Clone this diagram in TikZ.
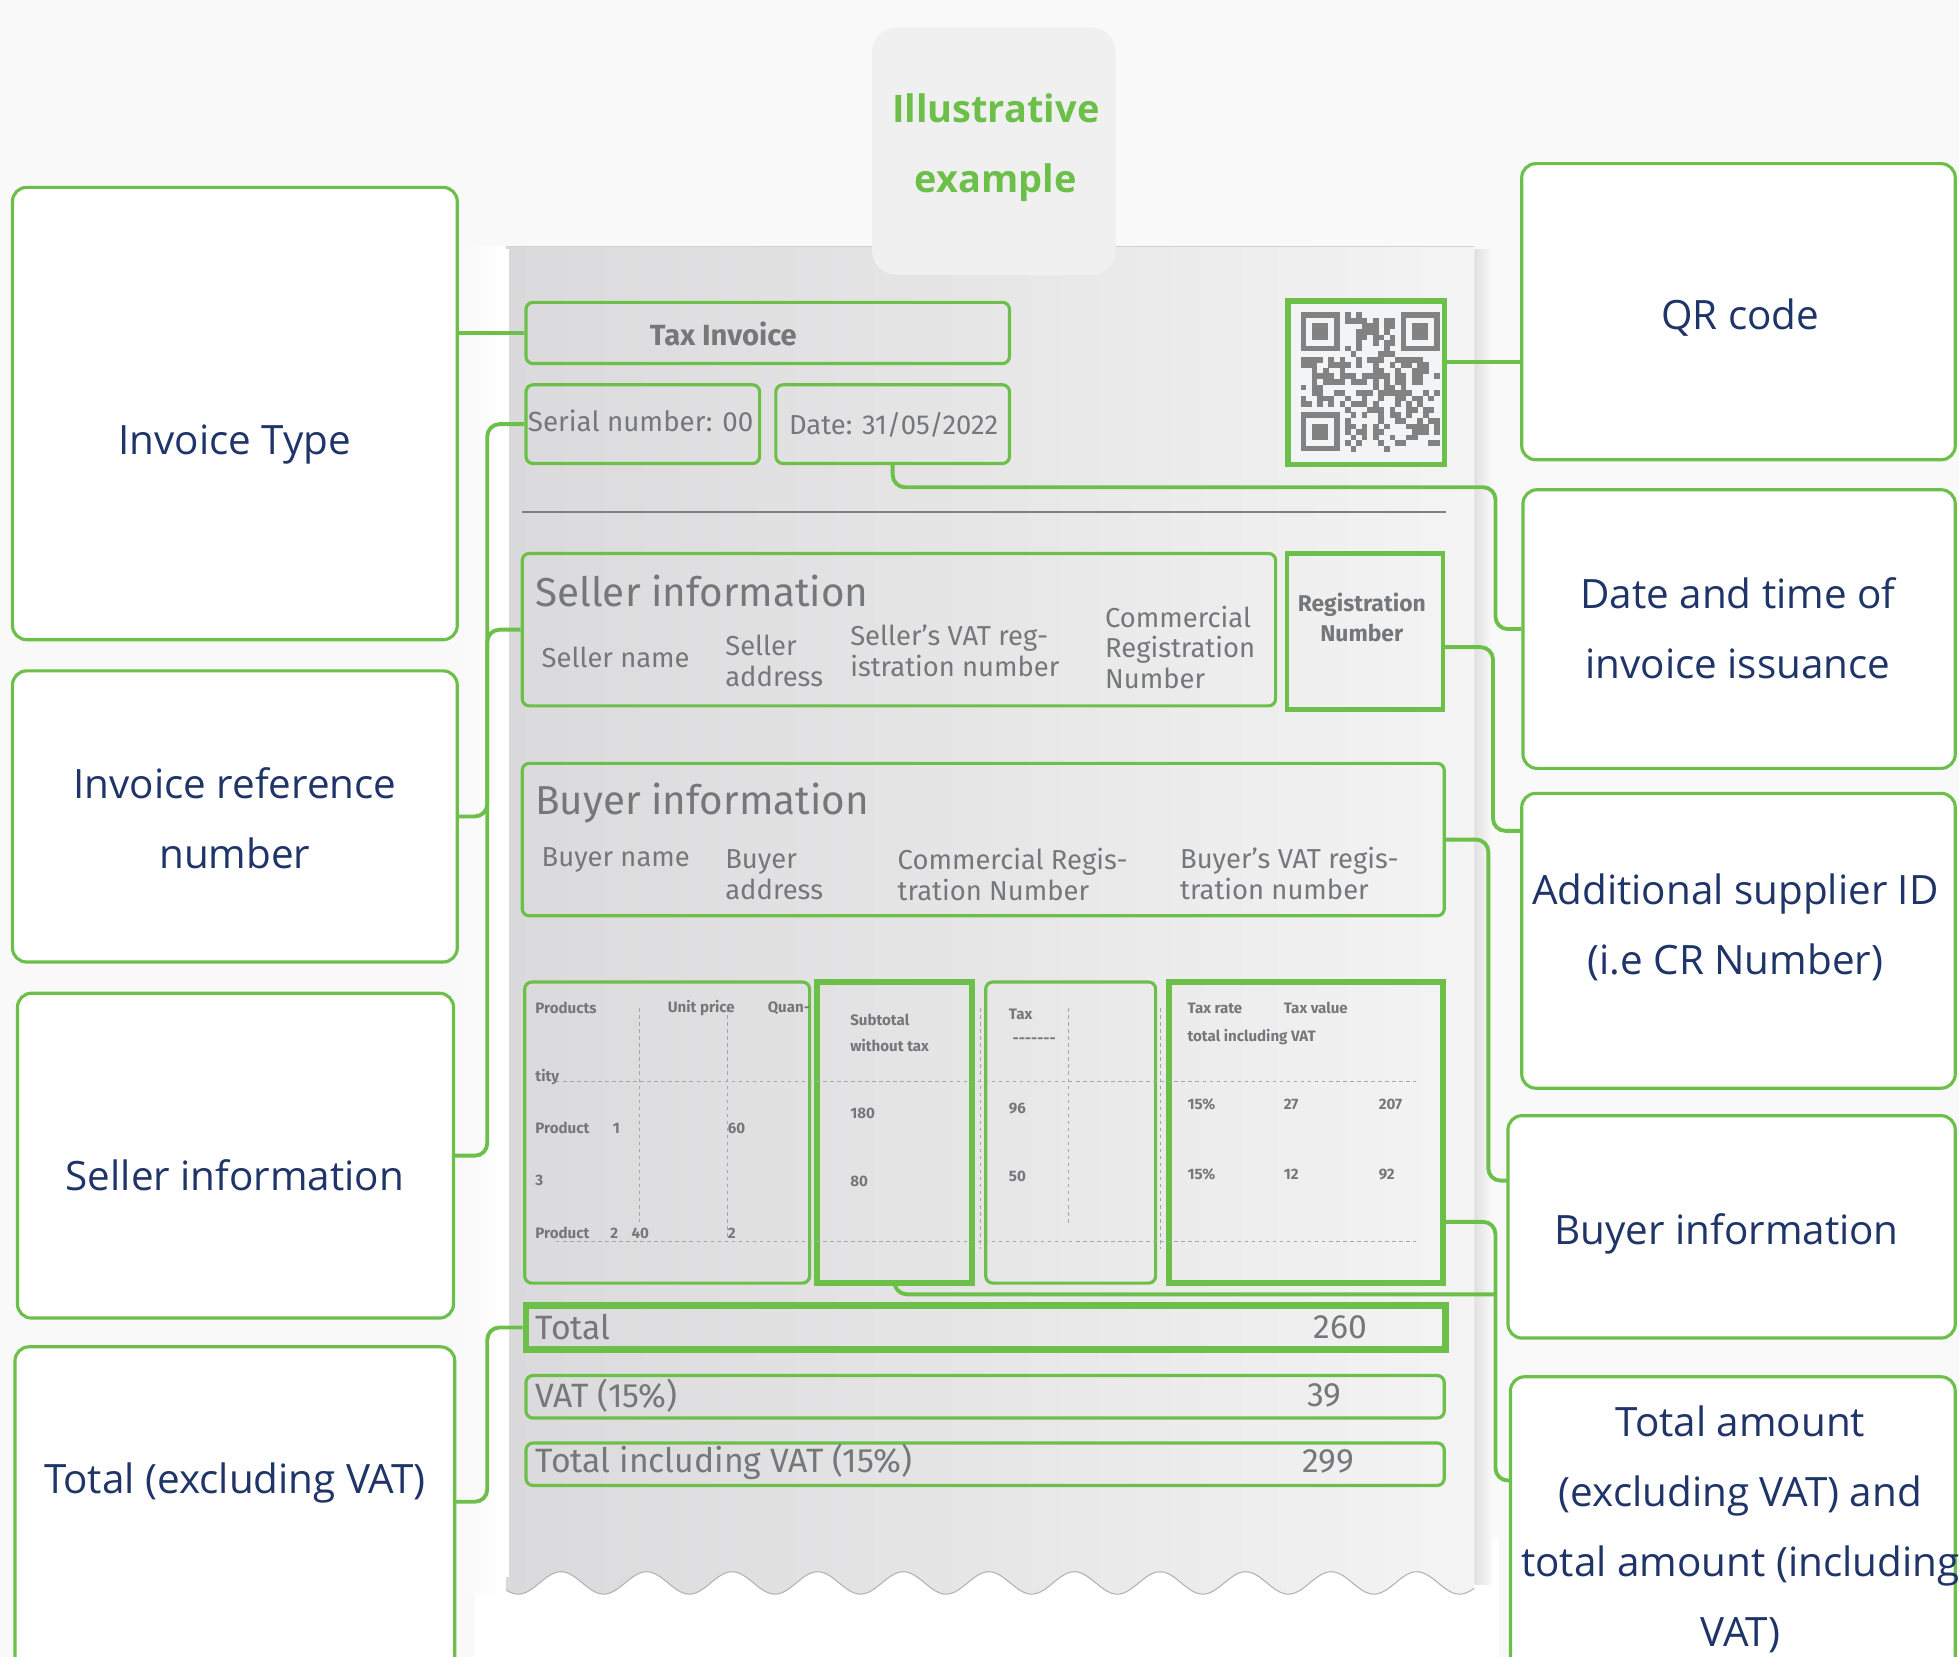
\documentclass[tikz,border=0pt]{standalone}
\usepackage{fontspec}
\setmainfont{Open Sans}
\newfontfamily\lblfont{Open Sans}
\newfontfamily\invfont{Fira Sans}
\usetikzlibrary{fit,calc}
\definecolor{grn}{RGB}{108,192,74}
\definecolor{navy}{RGB}{31,52,104}
\definecolor{ink}{RGB}{118,119,122}
\definecolor{bgc}{RGB}{249,249,249}
\definecolor{paperL}{RGB}{218,217,219}
\definecolor{paperR}{RGB}{244,244,244}
\definecolor{tagbg}{RGB}{241,240,241}
\definecolor{qrgray}{RGB}{130,130,130}
\definecolor{qrbg}{RGB}{243,244,245}
\definecolor{dotc}{RGB}{165,165,165}
\begin{document}
\begin{tikzpicture}[x=0.0125cm, y=-0.0125cm,
  lblbox/.style={draw=grn, line width=0.9pt, rounded corners=4pt, fill=white, inner sep=0pt},
  lbltext/.style={text=navy, font=\lblfont\fontsize{11.5}{19.9}\selectfont, align=center, inner sep=0pt},
  conn/.style={draw=grn, line width=1.1pt, rounded corners=3.5pt},
  thinbox/.style={draw=grn, line width=0.9pt, rounded corners=2pt, inner sep=0pt},
  thickbox/.style={draw=grn, line width=1.7pt, inner sep=0pt},
  invtxt/.style={text=ink, font=\invfont\fontsize{7.8}{8.7}\selectfont, align=left, inner sep=0pt, anchor=west},
  head/.style={text=ink, font=\invfont\fontsize{11.5}{13}\selectfont, inner sep=0pt, anchor=west},
  tbl/.style={text=ink, font=\invfont\bfseries\fontsize{4.3}{5}\selectfont, inner sep=0pt, anchor=west},
  sumtxt/.style={text=ink, font=\invfont\fontsize{9.6}{11}\selectfont, inner sep=0pt},
  dotl/.style={draw=dotc, line width=0.3pt, dash pattern=on 1pt off 1pt},
]
\useasboundingbox (0,0) rectangle (1568,1326);
\clip (0,0) rectangle (1568,1326);
\fill[bgc] (0,0) rectangle (1568,1326);

% ---------- paper ----------
\fill[white] (380,1230) rectangle (1200,1326);
\shade[left color=bgc, right color=white] (368,197) rectangle (405,1275);
\shade[left color=black!12, right color=bgc] (1180,200) rectangle (1194,1268);
\shade[left color=paperL, right color=paperR]
  (405,197) -- (1180,197) -- (1180,1267)
  -- plot[domain=1180:405, samples=260] (\x,{1267-9*cos((\x-449)*5.2555)}) -- cycle;
\draw[black!30, line width=0.3pt] plot[domain=405:1180, samples=260] (\x,{1267-9*cos((\x-449)*5.2555)});
\draw[white, line width=1pt] (406,199) -- (406,1262);
\draw[black!18, line width=0.4pt] (405,197.5) -- (1180,197.5);

% ---------- tag ----------
\node[fill=tagbg, rounded corners=7pt, inner sep=0pt, fit={(698,22) (893,220)}] (tag) {};
\node[text=grn, font=\lblfont\bfseries\fontsize{10.8}{20}\selectfont, align=center, inner sep=0pt] (tagt) at (797,118) {Illustrative\\example};

% ---------- label boxes ----------
\node[lblbox, fit={(10,150) (366,512)}] (invtype) {};
\node[lblbox, fit={(10,537) (366,770)}] (ref) {};
\node[lblbox, fit={(14,795) (363,1055)}] (sellerlbl) {};
\node[lblbox, fit={(12,1078) (364,1345)}] (totex) {};
\node[lblbox, fit={(1218,131) (1565,368)}] (qrlbl) {};
\node[lblbox, fit={(1219,392) (1565,615)}] (datelbl) {};
\node[lblbox, fit={(1218,635) (1565,871)}] (addlbl) {};
\node[lblbox, fit={(1207,893) (1565,1071)}] (buylbl) {};
\node[lblbox, fit={(1209,1102) (1565,1345)}] (totamlbl) {};

\node[lbltext] (invtype-t) at (188,356) {Invoice Type};
\node[lbltext] (ref-t) at (188,655) {Invoice reference\\number};
\node[lbltext] (sellerlbl-t) at (188,941) {Seller information};
\node[lbltext] (totex-t) at (188,1187) {Total (excluding VAT)};
\node[lbltext] (qrlbl-t) at (1393,254) {QR code};
\node[lbltext] (datelbl-t) at (1391,503) {Date and time of\\invoice issuance};
\node[lbltext] (addlbl-t) at (1389,742) {Additional supplier ID\\(i.e CR Number)};
\node[lbltext] (buylbl-t) at (1382,988) {Buyer information};
\node[lbltext] (totamlbl-t) at (1393,1224) {Total amount\\(excluding VAT) and\\total amount (including\\VAT)};

% ---------- invoice boxes ----------
\node[thinbox, fit={(421,242) (808,291)}] (taxinv) {};
\node[thinbox, fit={(421,308) (608,371)}] (serial) {};
\node[thinbox, fit={(621,308) (808,371)}] (date) {};
\node[thickbox, line width=1.5pt, fill=qrbg, fit={(1031,241) (1156,372)}] (qr) {};
\draw[black!50, line width=0.7pt] (418,410) -- (1157,410);
\node[thinbox, fit={(418,443) (1021,565)}] (sellbox) {};
\node[thickbox, line width=1.3pt, fit={(1030,443) (1155,568)}] (reg) {};
\node[thinbox, fit={(418,611) (1156,733)}] (buybox) {};
\node[thinbox, fit={(420,786) (648,1027)}] (prod) {};
\node[thickbox, fit={(654,786) (778,1027)}] (sub) {};
\node[thinbox, fit={(789,786) (925,1027)}] (tax) {};
\node[thickbox, fit={(936,786) (1155,1027)}] (rate) {};
\node[thickbox, line width=1.9pt, fit={(421,1045) (1157,1080)}] (total) {};
\node[thinbox, fit={(421,1101) (1156,1135)}] (vat) {};
\node[thinbox, fit={(421,1155) (1156,1189)}] (totinc) {};

% ---------- QR code ----------
\pgfmathsetseed{12}
\foreach \i in {0,...,24}{
  \foreach \j in {0,...,24}{
    \pgfmathrandominteger{\rr}{0}{1}
    \pgfmathtruncatemacro{\keep}{((\i<8 && \j<8) || (\i>16 && \j<8) || (\i<8 && \j>16)) ? 0 : \rr}
    \ifnum\keep=1 \fill[qrgray] (1041+4.45*\i,250+4.45*\j) rectangle ++(4.6,4.6); \fi
  }
}
\foreach \a/\b in {0/0,18/0,0/18}{
  \fill[qrgray] (1041+4.45*\a,250+4.45*\b) rectangle ++(31.15,31.15);
  \fill[qrbg] (1041+4.45*\a+4.45,250+4.45*\b+4.45) rectangle ++(22.25,22.25);
  \fill[qrgray] (1041+4.45*\a+8.9,250+4.45*\b+8.9) rectangle ++(13.35,13.35);
}

% ---------- invoice texts ----------
\node[text=ink, font=\invfont\bfseries\fontsize{8.3}{10}\selectfont, inner sep=0pt] (taxinv-t) at (579,267) {Tax Invoice};
\node[invtxt, font=\invfont\fontsize{7.9}{9}\selectfont] (serial-t) at (422,337) {Serial number: 00};
\node[invtxt, font=\invfont\fontsize{7.8}{9}\selectfont] (date-t) at (631,340) {Date: 31/05/2022};

\node[head] (sellbox-h) at (428,473) {Seller information};
\node[invtxt] (sb1) at (433,526) {Seller name};
\node[invtxt] (sb2) at (580,529) {Seller\\address};
\node[invtxt] (sb3) at (680,521) {Seller’s VAT reg-\\istration number};
\node[invtxt] (sb4) at (884,518) {Commercial\\Registration\\Number};
\node[text=ink, font=\invfont\bfseries\fontsize{6.5}{8.5}\selectfont, align=center, inner sep=0pt] (reg-t) at (1090,494) {Registration\\Number};

\node[head] (buybox-h) at (428,643) {Buyer information};
\node[invtxt] (bb1) at (433,688) {Buyer name};
\node[invtxt] (bb2) at (580,700) {Buyer\\address};
\node[invtxt] (bb3) at (718,700) {Commercial Regis-\\tration Number};
\node[invtxt] (bb4) at (944,699) {Buyer’s VAT regis-\\tration number};

% table dotted lines
\draw[dotl] (445,866) -- (1133,866);
\draw[dotl] (445,994) -- (1133,994);
\draw[dotl] (512,807) -- (512,978);
\draw[dotl] (582,807) -- (582,990);
\draw[dotl] (785,807) -- (785,1000);
\draw[dotl] (855,807) -- (855,980);
\draw[dotl] (929,807) -- (929,1000);

\node[tbl] (p1) at (428,807) {Products};
\node[tbl] (p2) at (534,807) {Unit price};
\node[tbl] (p3) at (614,807) {Quan-};
\node[tbl] (p4) at (428,862) {tity};
\node[tbl] (p5) at (428,903) {Product};
\node[tbl] (p6) at (490,903) {1};
\node[tbl] (p7) at (582,903) {60};
\node[tbl] (p8) at (428,945) {3};
\node[tbl] (p9) at (428,987) {Product};
\node[tbl] (p10) at (488,987) {2};
\node[tbl] (p11) at (505,987) {40};
\node[tbl] (p12) at (582,987) {2};

\node[tbl] (s1) at (680,816) {Subtotal};
\node[tbl] (s2) at (680,837) {without tax};
\node[tbl] (s3) at (680,891) {180};
\node[tbl] (s4) at (680,946) {80};

\node[tbl] (t1) at (807,812) {Tax};
\node[tbl] (t2) at (810,833) {-------};
\node[tbl] (t3) at (807,887) {96};
\node[tbl] (t4) at (807,942) {50};

\node[tbl] (r1) at (950,807) {Tax rate};
\node[tbl] (r2) at (1027,807) {Tax value};
\node[tbl] (r3) at (950,830) {total including VAT};
\node[tbl] (r4) at (950,884) {15\%};
\node[tbl] (r5) at (1027,884) {27};
\node[tbl] (r6) at (1103,884) {207};
\node[tbl] (r7) at (950,940) {15\%};
\node[tbl] (r8) at (1027,940) {12};
\node[tbl] (r9) at (1103,940) {92};

\node[sumtxt, anchor=west] (total-t) at (428,1062) {Total};
\node[sumtxt] (total-v) at (1073,1062) {260};
\node[sumtxt, anchor=west] (vat-t) at (428,1117) {VAT (15\%)};
\node[sumtxt] (vat-v) at (1060,1117) {39};
\node[sumtxt, anchor=west] (totinc-t) at (428,1170) {Total including VAT (15\%)};
\node[sumtxt] (totinc-v) at (1063,1170) {299};

% ---------- connectors ----------
\coordinate (jl) at (390,0);
\draw[conn] (taxinv.west) -- (taxinv.west -| invtype.east);
\draw[conn] (serial.west) -- (serial.west -| jl) |- (ref.east);
\draw[conn] (sellbox.west) -- (sellbox.west -| jl) |- (sellerlbl.east);
\coordinate (totexc) at (364,1202);
\draw[conn] (total.west) -- (total.west -| jl) |- (totexc);

\coordinate (qrc) at (1157,290);
\draw[conn] (qrc) -- (qrc -| qrlbl.west);
\coordinate (jr) at (1197,390);
\draw[conn] (date.south) |- (jr) |- (datelbl.west);
\coordinate (regc) at (1156,518);
\coordinate (addc) at (1218,665);
\draw[conn] (regc) -- ++(39,0) |- (addc);
\coordinate (buyc) at (1207,945);
\draw[conn] (buybox.east) -- ++(34,0) |- (buyc);
\coordinate (ratec) at (1156,978);
\coordinate (totamc) at (1209,1185);
\draw[conn] (ratec) -- ++(41,0) |- (totamc);
\coordinate (bus) at (1197,1036);
\draw[conn] (sub.south) |- (bus);
\end{tikzpicture}
\end{document}
